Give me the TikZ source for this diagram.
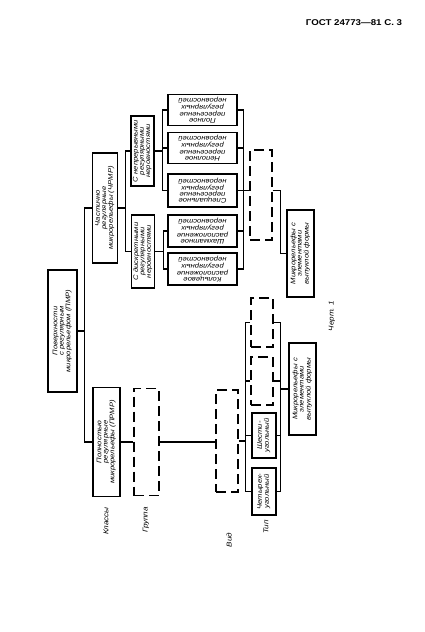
\documentclass[tikz,border=0pt]{standalone}
\usepackage{fontspec}
\setmainfont[FakeStretch=1.15]{Liberation Sans}
\usetikzlibrary{calc}

\newcommand{\vtext}[2]{\rotatebox{#1}{\begin{tabular}{@{}c@{}}#2\end{tabular}}}

\tikzstyle{box} = [rectangle, draw=black, line width=1.8pt, inner sep=0pt, font=\itshape\fontsize{9.5}{9}\selectfont]
\tikzstyle{emptybox} = [rectangle, draw=black, line width=1.8pt, dash pattern=on 5mm off 2.5mm]
\tikzstyle{line} = [line width=1.5pt]
\tikzstyle{levelname} = [rotate=90, font=\itshape\fontsize{10}{10}\selectfont]

\begin{document}
\begin{tikzpicture}[x=0.5mm, y=-0.5mm]
\useasboundingbox (0,0) rectangle (424,632);

\node (title) at (354,23) {\bfseries\fontsize{12}{14}\selectfont ГОСТ 24773—81 С. 3};

\node (pmr) [box, minimum width=14.5mm, minimum height=61mm] at (62.5,331) {\vtext{90}{Поверхности\\с регулярным\\микрорельефом (ПМР)}};

\node (chrmr) [box, minimum width=12.5mm, minimum height=55mm] at (105,208) {\vtext{90}{Частично\\регулярные\\микрорельефы (ЧРМР)}};
\node (prmr) [box, minimum width=13.5mm, minimum height=54.5mm] at (106.5,442) {\vtext{90}{Полностью\\регулярные\\микрорельефы (ПРМР)}};

\node (cont) [box, minimum width=11.5mm, minimum height=35mm] at (142.5,151) {\vtext{90}{С непрерывными\\регулярными\\неровностями}};
\node (disc) [box, minimum width=11.5mm, minimum height=36.5mm] at (143,251.5) {\vtext{90}{С дискретными\\регулярными\\неровностями}};
\node (grp0) [emptybox, minimum width=12.5mm, minimum height=53.5mm] at (146.5,442) {};

\node (polnoe) [box, minimum width=34.5mm, minimum height=15.5mm] at (202.5,110) {\vtext{180}{Полное\\пересечение\\регулярных\\неровностей}};
\node (nepoln) [box, minimum width=34.5mm, minimum height=15.5mm] at (202.5,148) {\vtext{180}{Неполное\\пересечение\\регулярных\\неровностей}};
\node (spec) [box, minimum width=34.5mm, minimum height=16.5mm] at (202.5,190.5) {\vtext{180}{Специальное\\пересечение\\регулярных\\неровностей}};
\node (shakh) [box, minimum width=34.5mm, minimum height=16mm] at (202.5,231) {\vtext{180}{Шахматное\\расположение\\регулярных\\неровностей}};
\node (kolc) [box, minimum width=34.5mm, minimum height=16mm] at (202.5,269) {\vtext{180}{Кольцевое\\расположение\\регулярных\\неровностей}};
\node (vid0) [emptybox, minimum width=11mm, minimum height=51mm] at (227,441) {};

\node (tip0) [emptybox, minimum width=11mm, minimum height=45mm] at (261,195) {};
\node (tip1) [emptybox, minimum width=11mm, minimum height=24.5mm] at (262,322.5) {};
\node (tip2) [emptybox, minimum width=11mm, minimum height=24mm] at (262,381) {};
\node (shesti) [box, minimum width=12mm, minimum height=22.5mm] at (264,435.5) {\vtext{90}{Шести-\\угольный}};
\node (chetyr) [box, minimum width=12mm, minimum height=23.5mm] at (264,491.5) {\vtext{90}{Четырех-\\угольный}};

\node (vyp1) [box, minimum width=13.5mm, minimum height=43.5mm] at (300.5,253.5) {\vtext{90}{Микрорельефы с\\элементами\\выпуклой формы}};
\node (vyp2) [box, minimum width=13.5mm, minimum height=46mm] at (302.5,389) {\vtext{90}{Микрорельефы с\\элементами\\выпуклой формы}};

\node (klassy) [levelname] at (106,521) {Классы};
\node (gruppa) [levelname] at (146,520) {Группа};
\node (vid) [levelname] at (229,540) {Вид};
\node (tip) [levelname] at (266,527) {Тип};
\node (chert) [levelname] at (332,316) {Черт. 1};

\draw [line] (pmr.east) -- ++(7,0) coordinate (k0);
\draw [line] (k0) |- (chrmr.west);
\draw [line] (k0) |- (prmr.west);
\draw [line] (chrmr.east) -- ++(7,0) coordinate (k1);
\draw [line] (k1) |- (cont.west);
\draw [line] (k1) |- (disc.west);
\draw [line] (cont.east) -- ++(8,0) coordinate (k2);
\draw [line] (k2) |- (polnoe.west);
\draw [line] (k2) |- (nepoln.west);
\draw [line] (k2) |- (spec.west);
\draw [line] (disc.east) -- ++(8,0) coordinate (k3);
\draw [line] (k3) |- (shakh.west);
\draw [line] (k3) |- (kolc.west);
\draw [line] (spec.east) -- ++(6,0) coordinate (k4);
\draw [line] (k4) |- (polnoe.east);
\draw [line] (k4) |- (nepoln.east);
\draw [line] (k4) |- (shakh.east);
\draw [line] (k4) |- (kolc.east);
\draw [line] (k4) -- (k4 -| tip0.west);
\draw [line] (k4 -| tip0.east) -- ++(8,0) coordinate (k5);
\draw [line] (k5) |- (vyp1.west);

\draw [line] (prmr.east) -- (grp0.west);
\draw [line] (grp0.east) -- (grp0.east -| vid0.west);
\draw [line] (vid0.east) -- ++(7,0) coordinate (k6);
\draw [line] (k6) |- (tip1.west);
\draw [line] (k6) |- (tip2.west);
\draw [line] (k6) |- (shesti.west);
\draw [line] (k6) |- (chetyr.west);
\coordinate (k7) at ($(vyp2.west)+(-8,0)$);
\draw [line] (k7) -- (vyp2.west);
\draw [line] (tip1.east) -| (k7);
\draw [line] (tip2.east) -| (k7);
\draw [line] (shesti.east) -| (k7);
\draw [line] (chetyr.east) -| (k7);

\end{tikzpicture}
\end{document}
